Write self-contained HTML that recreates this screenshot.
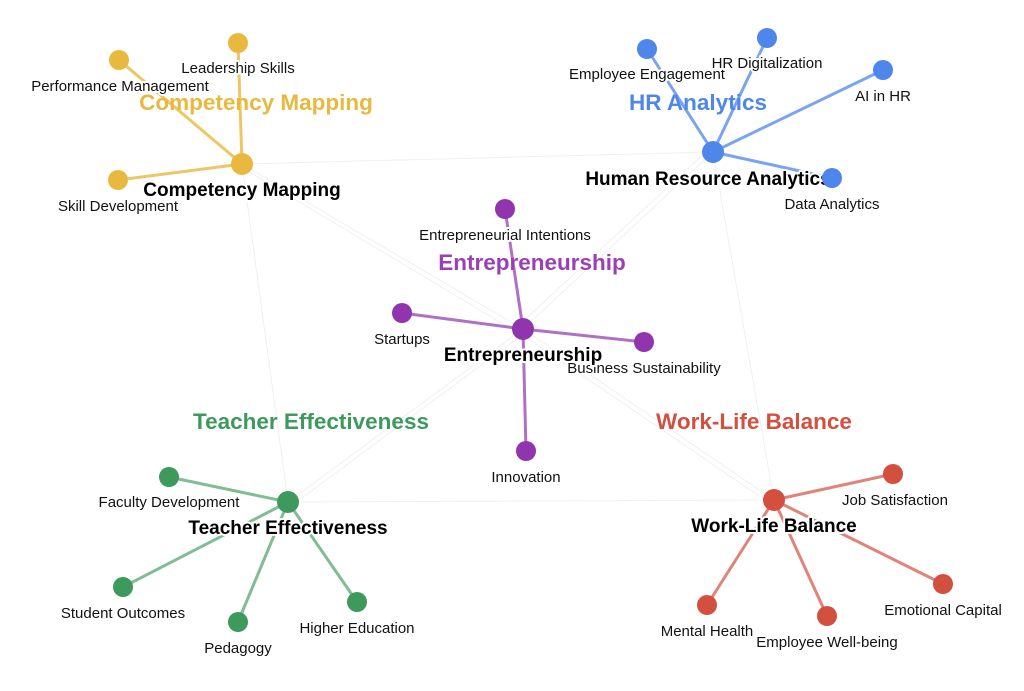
<!DOCTYPE html>
<html><head><meta charset="utf-8"><style>
html,body{margin:0;padding:0;background:#fff;}
svg{display:block;}
text{font-family:"Liberation Sans",sans-serif;text-anchor:middle;paint-order:stroke;stroke:#fff;stroke-linejoin:round;}
.l{font-size:15px;fill:#111;stroke-width:4px;}
.h{font-size:19px;font-weight:bold;fill:#000;stroke-width:4px;}
.t{font-size:22.5px;font-weight:bold;stroke-width:0;}
.f{stroke:#f0f0f0;stroke-width:1;fill:none;}
</style></head><body>
<svg width="1024" height="691" viewBox="0 0 1024 691">
<g class="f">
<line x1="242" y1="164" x2="713" y2="152"/>
<line x1="242" y1="164" x2="523" y2="329"/>
<line x1="246" y1="170" x2="520" y2="334"/>
<line x1="242" y1="164" x2="288" y2="502"/>
<line x1="713" y1="152" x2="523" y2="329"/>
<line x1="708" y1="150" x2="518" y2="326"/>
<line x1="713" y1="152" x2="774" y2="500"/>
<line x1="523" y1="329" x2="288" y2="502"/>
<line x1="526" y1="332" x2="291" y2="506"/>
<line x1="523" y1="329" x2="774" y2="500"/>
<line x1="520" y1="333" x2="771" y2="504"/>
<line x1="288" y1="502" x2="774" y2="500"/>
</g>
<g stroke="#e9b93f" stroke-width="3" opacity="0.8">
<line x1="242" y1="164" x2="119" y2="60"/><line x1="242" y1="164" x2="238" y2="43"/><line x1="242" y1="164" x2="118" y2="180"/></g>
<g stroke="#4f86ec" stroke-width="3" opacity="0.75">
<line x1="713" y1="152" x2="647" y2="49"/><line x1="713" y1="152" x2="767" y2="38"/><line x1="713" y1="152" x2="883" y2="70"/><line x1="713" y1="152" x2="832" y2="178"/></g>
<g stroke="#9035ad" stroke-width="3" opacity="0.7">
<line x1="523" y1="329" x2="505" y2="209"/><line x1="523" y1="329" x2="402" y2="313"/><line x1="523" y1="329" x2="644" y2="342"/><line x1="523" y1="329" x2="526" y2="451"/></g>
<g stroke="#3d9a5c" stroke-width="3" opacity="0.65">
<line x1="288" y1="502" x2="169" y2="477"/><line x1="288" y1="502" x2="123" y2="587"/><line x1="288" y1="502" x2="238" y2="622"/><line x1="288" y1="502" x2="357" y2="602"/></g>
<g stroke="#d3503f" stroke-width="3" opacity="0.7">
<line x1="774" y1="500" x2="893" y2="474"/><line x1="774" y1="500" x2="943" y2="584"/><line x1="774" y1="500" x2="827" y2="616"/><line x1="774" y1="500" x2="707" y2="605"/></g>
<g fill="#e9b93f"><circle cx="242" cy="164" r="11"/><circle cx="119" cy="60" r="10"/><circle cx="238" cy="43" r="10"/><circle cx="118" cy="180" r="10"/></g>
<g fill="#4f86ec"><circle cx="713" cy="152" r="11"/><circle cx="647" cy="49" r="10"/><circle cx="767" cy="38" r="10"/><circle cx="883" cy="70" r="10"/></g>
<g fill="#9035ad"><circle cx="523" cy="329" r="11"/><circle cx="505" cy="209" r="10"/><circle cx="402" cy="313" r="10"/><circle cx="644" cy="342" r="10"/><circle cx="526" cy="451" r="10"/></g>
<g fill="#3d9a5c"><circle cx="288" cy="502" r="11"/><circle cx="169" cy="477" r="10"/><circle cx="123" cy="587" r="10"/><circle cx="238" cy="622" r="10"/><circle cx="357" cy="602" r="10"/></g>
<g fill="#d3503f"><circle cx="774" cy="500" r="11"/><circle cx="893" cy="474" r="10"/><circle cx="943" cy="584" r="10"/><circle cx="827" cy="616" r="10"/><circle cx="707" cy="605" r="10"/></g>
<g class="l">
<text x="120" y="91">Performance Management</text><text x="238" y="73">Leadership Skills</text><text x="118" y="211">Skill Development</text>
<text x="647" y="79">Employee Engagement</text><text x="767" y="68">HR Digitalization</text><text x="883" y="101">AI in HR</text><text x="832" y="209">Data Analytics</text>
<text x="505" y="240">Entrepreneurial Intentions</text><text x="402" y="344">Startups</text><text x="644" y="373">Business Sustainability</text><text x="526" y="482">Innovation</text>
<text x="169" y="507">Faculty Development</text><text x="123" y="618">Student Outcomes</text><text x="238" y="653">Pedagogy</text><text x="357" y="633">Higher Education</text>
<text x="895" y="505">Job Satisfaction</text><text x="943" y="615">Emotional Capital</text><text x="827" y="647">Employee Well-being</text><text x="707" y="636">Mental Health</text>
</g>
<g class="h">
<text x="242" y="196">Competency Mapping</text><text x="708" y="185">Human Resource Analytics</text><text x="523" y="361">Entrepreneurship</text><text x="288" y="534">Teacher Effectiveness</text><text x="774" y="532">Work-Life Balance</text>
</g>
<circle cx="832" cy="178" r="10" fill="#4f86ec"/>
<text class="t" x="256" y="110" fill="#e9b93f">Competency Mapping</text>
<text class="t" x="698" y="110" fill="#4f86ec">HR Analytics</text>
<text class="t" x="532" y="270" fill="#9a3fb5">Entrepreneurship</text>
<text class="t" x="311" y="429" fill="#3d9a5c">Teacher Effectiveness</text>
<text class="t" x="754" y="429" fill="#d3503f">Work-Life Balance</text>
</svg>
</body></html>
